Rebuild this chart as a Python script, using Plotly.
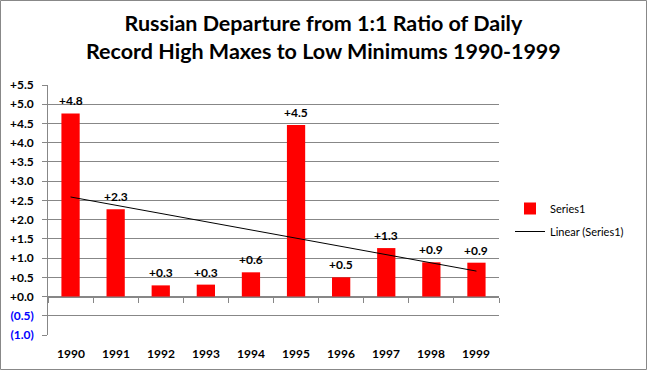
import numpy as np
import plotly.graph_objects as go

years = ["1990", "1991", "1992", "1993", "1994", "1995", "1996", "1997", "1998", "1999"]
values = [4.76, 2.27, 0.29, 0.31, 0.63, 4.46, 0.50, 1.26, 0.89, 0.88]
ytick_vals = [-1.0, -0.5, 0.0, 0.5, 1.0, 1.5, 2.0, 2.5, 3.0, 3.5, 4.0, 4.5, 5.0, 5.5]
title_text = "Russian Departure from 1:1 Ratio of Daily<br>Record High Maxes to Low Minimums 1990-1999"

FONT = "Lato"
GRID = "#878787"
YMIN, YMAX = -1.0, 5.5

xs = list(range(len(years)))
slope, intercept = np.polyfit(xs, values, 1)
trend = [slope * x + intercept for x in xs]

def ylabel(v):
    if v < 0:
        return '<span style="color:#0000ff">(%.1f)</span>\u00a0\u00a0' % abs(v)
    return "+%.1f\u00a0\u00a0" % v

W, H = 647, 370
L, R, T, B = 48, 148, 85, 35
pw, ph = W - L - R, H - T - B
def px_x(p): return (p - L) / pw
def px_y(p): return (H - B - p) / ph

fig = go.Figure()
fig.add_trace(go.Bar(x=xs, y=values, name="Series1", legendgroup="a",
                     marker=dict(color="#ff0000", line=dict(width=0)), width=0.405))
fig.add_trace(go.Scatter(x=xs, y=trend, mode="lines", name="Linear (Series1)", legendgroup="b",
                         line=dict(color="black", width=1)))

for x, v in zip(xs, values):
    fig.add_annotation(x=x, y=v, text="<b>+%.1f</b>" % v, showarrow=False, yanchor="bottom",
                       yshift=3, font=dict(family=FONT, size=12, color="black"))

for x, yr in zip(xs, years):
    fig.add_annotation(x=x, xref="x", y=px_y(353), yref="paper", text="<b>%s</b>" % yr,
                       showarrow=False, yanchor="middle", font=dict(family=FONT, size=12, color="black"))

fig.add_annotation(x=0.5 * (px_x(0) + px_x(W)), xref="paper", y=px_y(37), yref="paper",
                   text="<b>%s</b>" % title_text, showarrow=False, xanchor="center", yanchor="middle",
                   font=dict(family=FONT, size=21.5, color="black"))

fig.add_shape(type="rect", xref="paper", yref="paper",
              x0=px_x(0.5), x1=px_x(W - 0.5), y0=px_y(H - 0.5), y1=px_y(0.5),
              line=dict(color="#888888", width=1))

fig.update_layout(
    width=W, height=H,
    margin=dict(l=L, r=R, t=T, b=B, autoexpand=False),
    paper_bgcolor="white", plot_bgcolor="white",
    font=dict(family=FONT, color="black"),
    bargap=0.6,
    showlegend=True,
    legend=dict(x=px_x(510), y=px_y(194), xanchor="left", yanchor="top",
                font=dict(family=FONT, size=11, color="black"), bgcolor="rgba(0,0,0,0)",
                itemwidth=30, tracegroupgap=4),
    xaxis=dict(range=[-0.5, 9.5], anchor="free", position=(0 - YMIN) / (YMAX - YMIN),
               tickvals=[i + 0.5 for i in range(-1, 10)], showticklabels=False,
               ticks="outside", ticklen=5, tickcolor=GRID,
               showline=True, linecolor=GRID, linewidth=1,
               showgrid=False, zeroline=False, fixedrange=True),
    yaxis=dict(range=[YMIN, YMAX], tickvals=ytick_vals, ticktext=[ylabel(v) for v in ytick_vals],
               showgrid=True, gridcolor=GRID, gridwidth=1, zeroline=False,
               showline=True, linecolor=GRID, linewidth=1, ticks="outside", ticklen=5, tickcolor=GRID,
               tickfont=dict(family=FONT, size=12, color="black", weight="bold")),
)

fig.write_html("out.html", config={"displayModeBar": False},
               post_script="document.body.style.margin='0';")
